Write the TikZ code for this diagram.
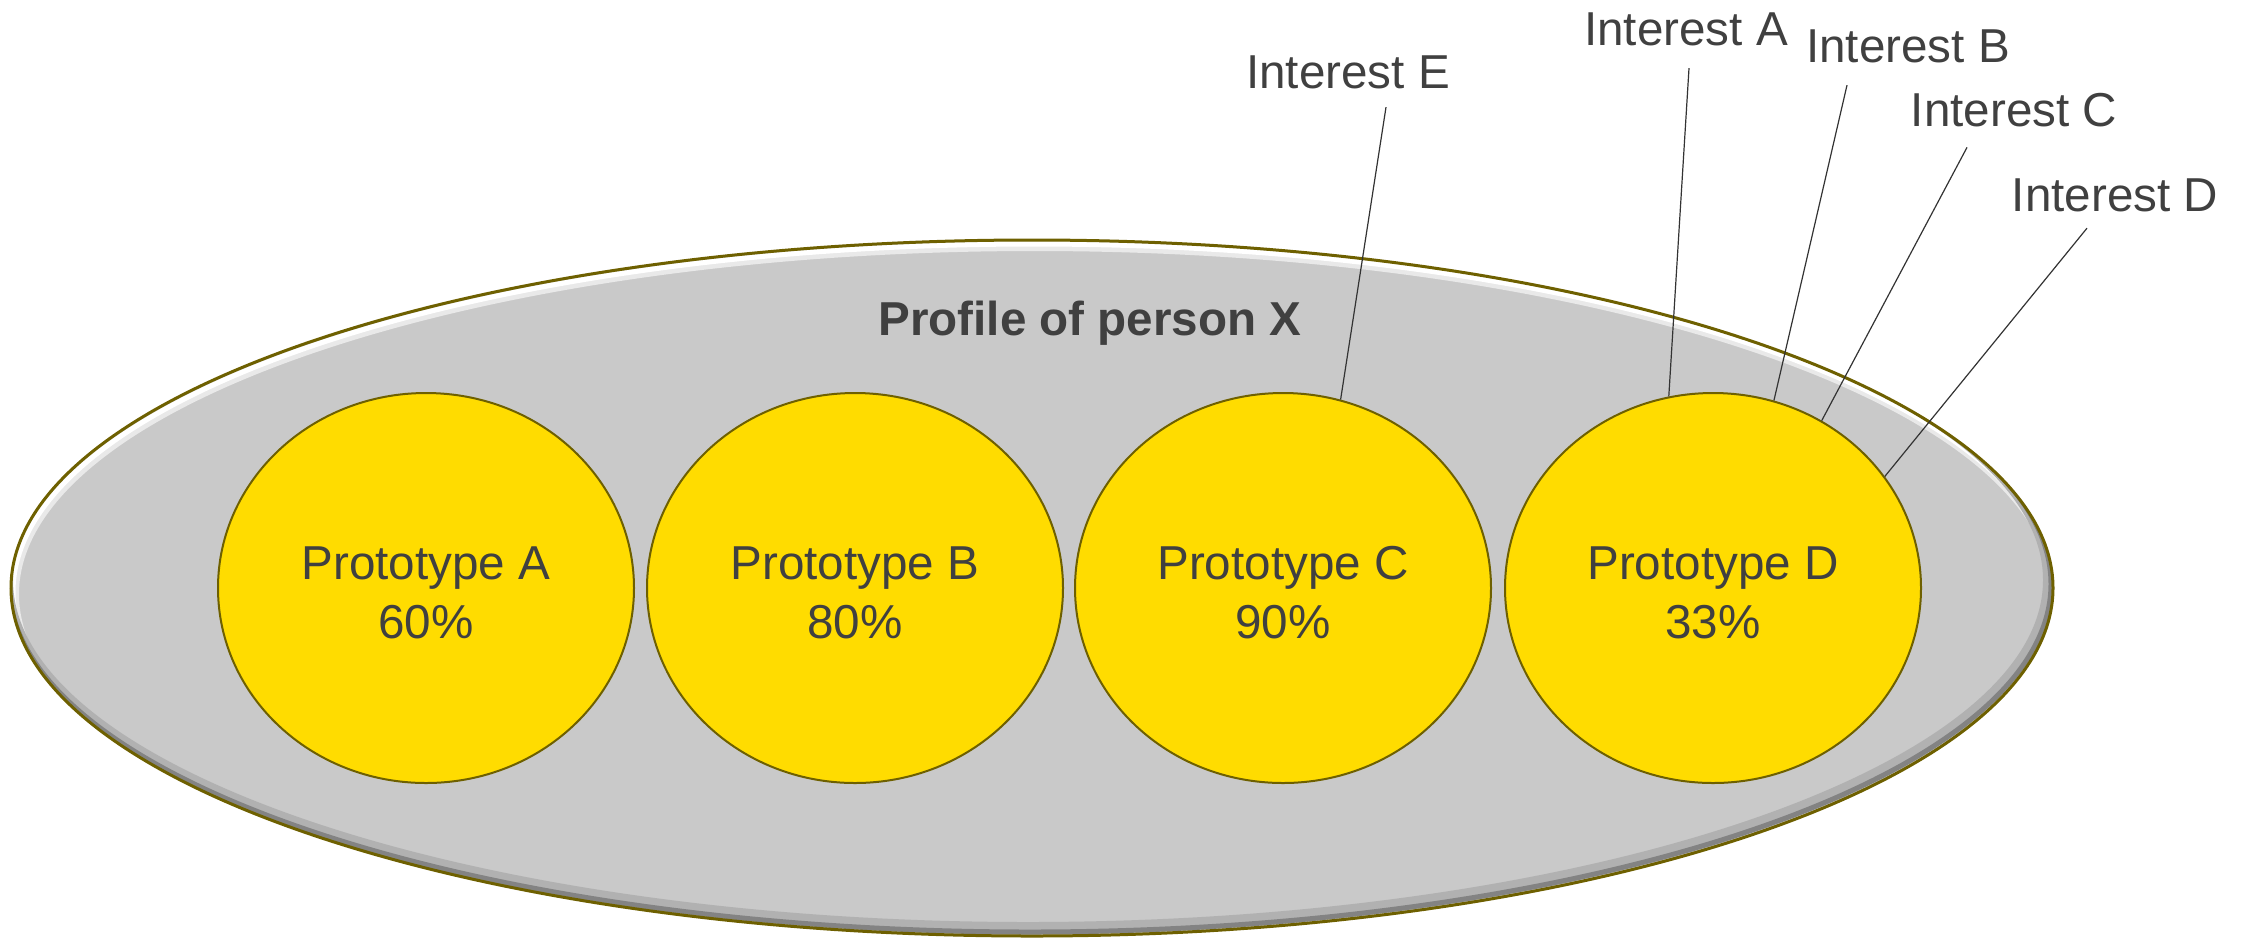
\documentclass[tikz,border=0pt]{standalone}
\usepackage{fontspec}
\setmainfont{Liberation Sans}
\usetikzlibrary{shapes.geometric}
\definecolor{bggray}{HTML}{C9C9C9}
\definecolor{rimolive}{HTML}{6E6000}
\definecolor{protoyellow}{HTML}{FFDC00}
\definecolor{txtgray}{HTML}{404040}
\newcommand{\protostrut}{\rule{0pt}{21pt}}
\begin{document}
\begin{tikzpicture}[x=0.5pt,y=-0.5pt,
  lbl/.style={font=\fontsize{23.8pt}{29.5pt}\selectfont, text=txtgray, inner sep=0pt},
  proto/.style={ellipse, draw=rimolive, line width=1pt, fill=protoyellow,
    minimum width=208pt, minimum height=195pt, inner sep=0pt, align=center,
    font=\fontsize{23.8pt}{29.5pt}\selectfont, text=txtgray},
  bigell/.style={ellipse, fill=bggray, minimum width=1021pt, minimum height=348pt, inner sep=0pt},
  leader/.style={draw=black!80, line width=0.6pt}]
\useasboundingbox (0,0) rectangle (2248,939);
% outer profile ellipse
\node[bigell] (profile) at (1032,588) {};
\begin{scope}
  \clip (1032,588) ellipse [x radius=1021, y radius=348];
  \draw[white!60!bggray, line width=5pt] (1035,594) ellipse [x radius=1021, y radius=348];
  \draw[white, line width=2.5pt] (1034,592) ellipse [x radius=1021, y radius=348];
  \draw[black!12!bggray, line width=6pt] (1028,580) ellipse [x radius=1021, y radius=348];
  \draw[black!35!bggray, line width=2.5pt] (1030,584) ellipse [x radius=1021, y radius=348];
\end{scope}
\draw[rimolive, line width=1.5pt] (1032,588) ellipse [x radius=1021, y radius=348];
\node[font=\bfseries\fontsize{23.8pt}{29.5pt}\selectfont, text=txtgray, inner sep=0pt, anchor=base] (title) at (1090,335) {Profile of person X};
% prototypes
\node[proto] (pA) at (426,588) {\protostrut Prototype A\\60\%};
\node[proto] (pB) at (855,588) {\protostrut Prototype B\\80\%};
\node[proto] (pC) at (1283,588) {\protostrut Prototype C\\90\%};
\node[proto] (pD) at (1713,588) {\protostrut Prototype D\\33\%};
% interest labels
\node[lbl] (labE) at (1348,72) {Interest E};
\node[lbl] (labA) at (1686,29) {Interest A};
\node[lbl] (labB) at (1908,46) {Interest B};
\node[lbl] (labC) at (2014,110) {Interest C};
\node[lbl] (labD) at (2115,195) {Interest D};
% leaders
\draw[leader] ([xshift=19pt,yshift=-9.5pt]labE.base) -- (pC.73.8);
\draw[leader] ([xshift=1.5pt,yshift=-11.5pt]labA.base) -- (pD.103.5);
\draw[leader] ([xshift=-30.5pt,yshift=-11.5pt]labB.base) -- (pD.72.7);
\draw[leader] ([xshift=-23.5pt,yshift=-10.5pt]labC.base) -- (pD.57.3);
\draw[leader] ([xshift=-14pt,yshift=-8.5pt]labD.base) -- (pD.33.9);
\end{tikzpicture}
\end{document}
